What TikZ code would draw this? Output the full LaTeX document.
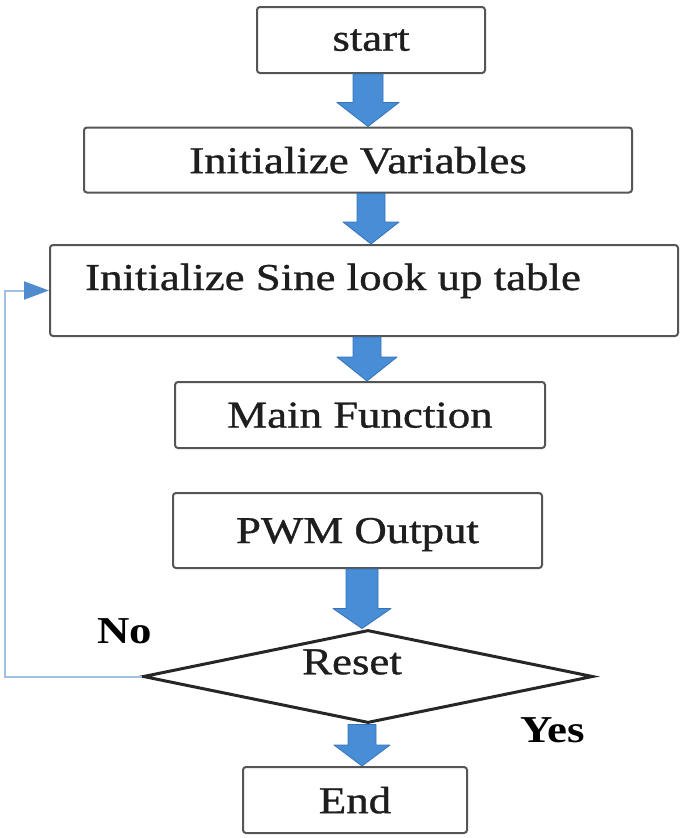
\documentclass[tikz,border=0pt]{standalone}
\usepackage{fontspec}
\usepackage{graphicx}
\setmainfont{Liberation Serif}
\newfontfamily\heavyserif[FakeBold=0.8]{Liberation Serif}
\usetikzlibrary{calc,shapes.geometric,arrows.meta}
\definecolor{boxline}{RGB}{85,85,85}
\definecolor{arrowblue}{RGB}{72,142,214}
\definecolor{arrowedge}{RGB}{55,115,185}
\definecolor{loopblue}{RGB}{160,192,225}
\definecolor{looparrow}{RGB}{80,140,205}
\definecolor{txt}{RGB}{30,30,30}
\newcommand\wtxt[1]{\scalebox{1.18}[1]{#1}}
\newcommand\blockarrow[6]{%
  \path let \p1=(#1.south), \p2=(#2.north) in
    [fill=arrowblue, draw=arrowedge, line width=0.8pt, line join=round]
    (#3pt-#4pt,\y1) -- (#3pt+#4pt,\y1) -- (#3pt+#4pt,\y2+#6pt) -- (#3pt+#5pt,\y2+#6pt)
    -- (#3pt,\y2) -- (#3pt-#5pt,\y2+#6pt) -- (#3pt-#4pt,\y2+#6pt) -- cycle;}
\begin{document}
\begin{tikzpicture}[x=1pt,y=-1pt,
  box/.style={draw=boxline,line width=2pt,rounded corners=3pt,fill=white,inner sep=0pt,
    text=txt,font=\heavyserif\fontsize{38}{44}\selectfont,text depth=0pt},
  lbl/.style={text=txt,font=\heavyserif\fontsize{38}{44}\selectfont,inner sep=0pt},
  yn/.style={text=black,font=\bfseries\fontsize{38}{44}\selectfont,inner sep=0pt}]
\useasboundingbox (0,0) rectangle (685,838);
\fill[white] (0,0) rectangle (685,838);

\node[box,minimum width=228,minimum height=66] (start) at (371,40) {\wtxt{start}};
\node[box,minimum width=548,minimum height=65] (initvar) at (358,160) {\wtxt{Initialize Variables}};
\node[box,minimum width=628,minimum height=91] (sine) at (364,290.5) {};
\node[lbl,anchor=base west] (sinetxt) at (85,290) {\wtxt{Initialize Sine look up table}};
\node[box,minimum width=370,minimum height=66] (main) at (360,415) {\wtxt{Main Function}};
\node[box,minimum width=369,minimum height=75] (pwm) at (357.5,530.5) {\wtxt{PWM Output}};
\node[draw=black!85,line width=3pt,shape=diamond,inner sep=0pt,
      minimum width=450,minimum height=93] (reset) at (368,676.5) {};
\node[lbl] (resettxt) at (352,662) {\wtxt{Reset}};
\node[box,minimum width=224,minimum height=66] (end) at (355,800) {\wtxt{End}};

\node[yn,anchor=base west] (no) at (97,643) {\wtxt{No}};
\node[yn,anchor=base west] (yes) at (520,742) {\wtxt{Yes}};

\blockarrow{start}{initvar}{368}{15}{31}{24}
\blockarrow{initvar}{sine}{371}{14}{28}{22}
\blockarrow{sine}{main}{367}{14}{30}{24}
\blockarrow{pwm}{reset}{362}{16}{29}{20}
\blockarrow{reset}{end}{362}{14}{28}{21}

\coordinate (loopcorner) at (5,290.5);
\draw[loopblue,line width=2pt,
  -{Triangle[length=25pt,width=18pt,color=looparrow,fill=looparrow]}]
  (reset.west) -| (loopcorner) -- (sine.west);
\end{tikzpicture}
\end{document}
